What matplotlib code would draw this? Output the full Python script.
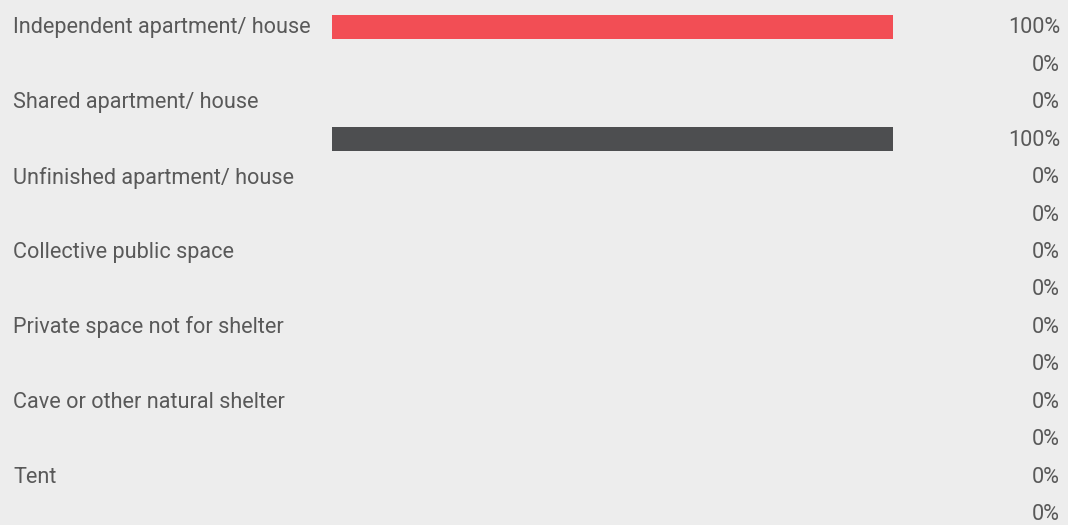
import numpy as np
import matplotlib
matplotlib.use("Agg")
from matplotlib import pyplot as plt
from matplotlib.transforms import blended_transform_factory

# Data
categories = ['Independent apartment/ house', 'Shared apartment/ house',
              'Unfinished apartment/ house', 'Collective public space',
              'Private space not for shelter', 'Cave or other natural shelter', 'Tent']
series_a = [100, 0, 0, 0, 0, 0, 0]   # red
series_b = [0, 100, 0, 0, 0, 0, 0]   # dark grey

red = '#f24e55'
grey = '#4d4e50'
bg = '#ededed'
txt = '#595959'

W, H = 1068, 525
fig = plt.figure(figsize=(W/100, H/100), dpi=100, facecolor=bg)

# axes spans the bar area horizontally, full height
x0, x1 = 332, 893
ax = fig.add_axes([x0/W, 0, (x1-x0)/W, 1])
ax.set_facecolor(bg)
step = (513 - 26.5) / 13
ax.set_ylim((H - 26.5)/step, -26.5/step)
ax.set_xlim(0, 100)
ax.axis('off')

n = len(categories)
ya = np.arange(n) * 2
yb = ya + 1
bh = 24 / step
ax.barh(ya, series_a, height=bh, color=red)
ax.barh(yb, series_b, height=bh, color=grey)

tr = blended_transform_factory(fig.transFigure, ax.transData)
fs = 15.6
dy = 0.04
for i, c in enumerate(categories):
    ax.text(13/W, ya[i] + dy, c, transform=tr, ha='left', va='center',
            fontsize=fs, color=txt, family='Roboto')
    ax.text(1060/W, ya[i] + dy, f'{series_a[i]}%', transform=tr, ha='right',
            va='center', fontsize=fs, color=txt, family='Roboto')
    ax.text(1060/W, yb[i] + dy, f'{series_b[i]}%', transform=tr, ha='right',
            va='center', fontsize=fs, color=txt, family='Roboto')

fig.savefig('out.png', dpi=100, facecolor=bg)
